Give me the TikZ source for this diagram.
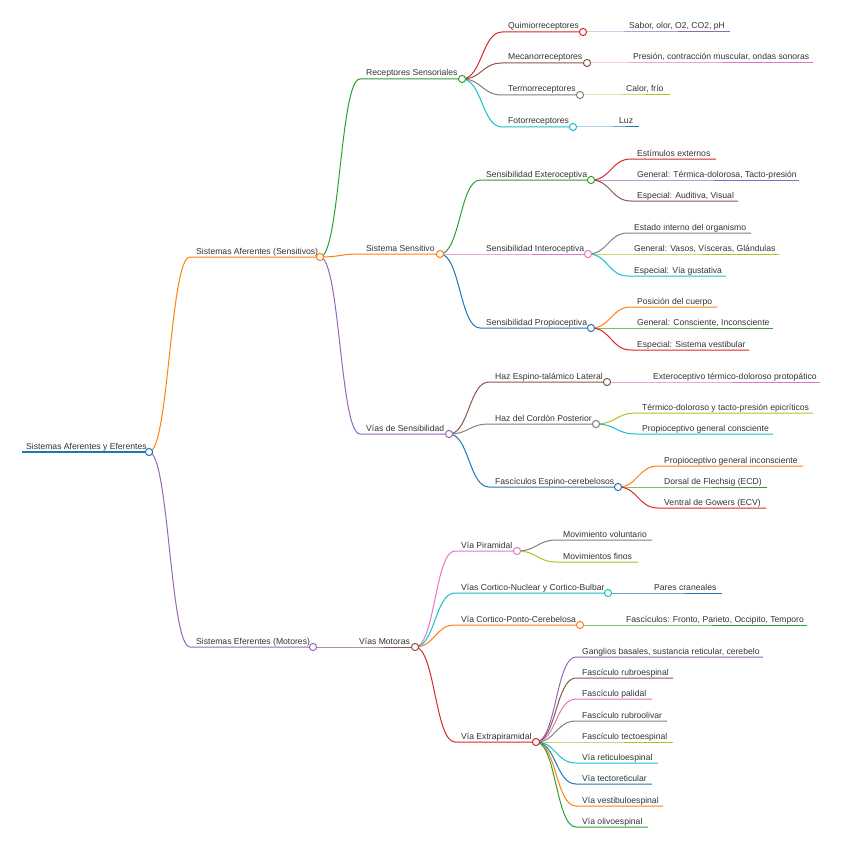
\documentclass[tikz,border=0pt]{standalone}
\usepackage{fontspec}
\setmainfont{Liberation Sans}
\usetikzlibrary{backgrounds}

\definecolor{mmblue}{HTML}{1F77B4}
\definecolor{mmorange}{HTML}{FF7F0E}
\definecolor{mmgreen}{HTML}{2CA02C}
\definecolor{mmred}{HTML}{D62728}
\definecolor{mmpurple}{HTML}{9467BD}
\definecolor{mmbrown}{HTML}{8C564B}
\definecolor{mmpink}{HTML}{E377C2}
\definecolor{mmgray}{HTML}{7F7F7F}
\definecolor{mmolive}{HTML}{BCBD22}
\definecolor{mmcyan}{HTML}{17BECF}
\definecolor{mmtext}{HTML}{333333}

% branch with a circle: name, parent, colour, x start, x end, y, text
\newcommand{\mmnode}[7]{%
  \coordinate (#1-s) at (#4,#6);
  \coordinate (#1-c) at (#5,#6);
  \node[lbl] (#1) at (#4+6,#6-3) {#7};
  \begin{pgfonlayer}{background}
    \draw[#3, br] (#2-c) .. controls +(20,0) and +(-20,0) .. (#1-s) -- (#1-c);
  \end{pgfonlayer}
  \draw[#3, dot] (#1-c) circle (3.6);
}
% leaf: name, parent, colour, x start, x end, y, text
\newcommand{\mmleaf}[7]{%
  \coordinate (#1-s) at (#4,#6);
  \coordinate (#1-c) at (#5,#6);
  \node[lbl] (#1) at (#4+6,#6-3) {#7};
  \begin{pgfonlayer}{background}
    \draw[#3, br] (#2-c) .. controls +(20,0) and +(-20,0) .. (#1-s) -- (#1-c);
  \end{pgfonlayer}
}

\begin{document}
\begin{tikzpicture}[x=1pt, y=-1pt,
    lbl/.style={anchor=base west, inner sep=0pt, font=\fontsize{8.6}{10}\selectfont, text=mmtext},
    br/.style={line width=1pt},
    dot/.style={line width=1pt, fill=white},
]
    \useasboundingbox (0,0) rectangle (842,848);

    % root
    \coordinate (root-s) at (22,452);
    \coordinate (root-c) at (149,452);
    \node[lbl] (root) at (26,449) {Sistemas Aferentes y Eferentes};
    \begin{pgfonlayer}{background}
      \draw[mmblue, line width=1.4pt] (root-s) -- (root-c);
    \end{pgfonlayer}
    \draw[mmblue, dot] (root-c) circle (3.6);

    % first level
    \mmnode{afer}{root}{mmorange}{190}{320}{257}{Sistemas Aferentes (Sensitivos)}
    \mmnode{efer}{root}{mmpurple}{190}{313}{647}{Sistemas Eferentes (Motores)}

    % aferentes
    \mmnode{rec}{afer}{mmgreen}{360}{462}{79}{Receptores Sensoriales}
    \mmnode{sen}{afer}{mmorange}{360}{440}{254}{Sistema Sensitivo}
    \mmnode{vsen}{afer}{mmpurple}{360}{449}{434}{Vías de Sensibilidad}

    % receptores
    \mmnode{qui}{rec}{mmred}{502}{583}{32}{Quimiorreceptores}
    \mmnode{mec}{rec}{mmbrown}{502}{587}{63}{Mecanorreceptores}
    \mmnode{ter}{rec}{mmgray}{502}{580}{95}{Termorreceptores}
    \mmnode{fot}{rec}{mmcyan}{502}{573}{127}{Fotorreceptores}
    \mmleaf{sab}{qui}{mmpurple}{623}{730}{32}{Sabor, olor, O2, CO2, pH}
    \mmleaf{pre}{mec}{mmpink}{627}{813}{63}{Presión, contracción muscular, ondas sonoras}
    \mmleaf{cal}{ter}{mmolive}{620}{670}{95}{Calor, frío}
    \mmleaf{luz}{fot}{mmblue}{613}{639}{127}{Luz}

    % sistema sensitivo
    \mmnode{ext}{sen}{mmgreen}{480}{591}{180}{Sensibilidad Exteroceptiva}
    \mmnode{int}{sen}{mmpink}{480}{588}{254}{Sensibilidad Interoceptiva}
    \mmnode{pro}{sen}{mmblue}{480}{591}{328}{Sensibilidad Propioceptiva}
    \mmleaf{ext1}{ext}{mmred}{631}{716}{159}{Estímulos externos}
    \mmleaf{ext2}{ext}{mmpurple}{631}{799}{180}{General: Térmica-dolorosa, Tacto-presión}
    \mmleaf{ext3}{ext}{mmbrown}{631}{738}{201}{Especial: Auditiva, Visual}
    \mmleaf{int1}{int}{mmgray}{628}{751}{233}{Estado interno del organismo}
    \mmleaf{int2}{int}{mmolive}{628}{779}{254}{General: Vasos, Vísceras, Glándulas}
    \mmleaf{int3}{int}{mmcyan}{628}{726}{276}{Especial: Vía gustativa}
    \mmleaf{pro1}{pro}{mmorange}{631}{717}{307}{Posición del cuerpo}
    \mmleaf{pro2}{pro}{mmgreen}{631}{773}{328}{General: Consciente, Inconsciente}
    \mmleaf{pro3}{pro}{mmred}{631}{749}{350}{Especial: Sistema vestibular}

    % vias de sensibilidad
    \mmnode{hel}{vsen}{mmbrown}{489}{607}{382}{Haz Espino-talámico Lateral}
    \mmnode{hcp}{vsen}{mmgray}{489}{596}{424}{Haz del Cordón Posterior}
    \mmnode{fec}{vsen}{mmblue}{489}{618}{487}{Fascículos Espino-cerebelosos}
    \mmleaf{hel1}{hel}{mmpink}{647}{820}{382}{Exteroceptivo térmico-doloroso protopático}
    \mmleaf{hcp1}{hcp}{mmolive}{636}{813}{413}{Térmico-doloroso y tacto-presión epicríticos}
    \mmleaf{hcp2}{hcp}{mmcyan}{636}{773}{434}{Propioceptivo general consciente}
    \mmleaf{fec1}{fec}{mmorange}{658}{803}{466}{Propioceptivo general inconsciente}
    \mmleaf{fec2}{fec}{mmgreen}{658}{767}{487}{Dorsal de Flechsig (ECD)}
    \mmleaf{fec3}{fec}{mmred}{658}{766}{508}{Ventral de Gowers (ECV)}

    % eferentes
    \mmnode{vmot}{efer}{mmbrown}{353}{415}{647}{Vías Motoras}
    \mmnode{pir}{vmot}{mmpink}{455}{517}{551}{Vía Piramidal}
    \mmnode{cnb}{vmot}{mmcyan}{455}{608}{593}{Vías Cortico-Nuclear y Cortico-Bulbar}
    \mmnode{cpc}{vmot}{mmorange}{455}{580}{625}{Vía Cortico-Ponto-Cerebelosa}
    \mmnode{epi}{vmot}{mmred}{455}{536}{742}{Vía Extrapiramidal}
    \mmleaf{pir1}{pir}{mmgray}{557}{652}{540}{Movimiento voluntario}
    \mmleaf{pir2}{pir}{mmolive}{557}{638}{562}{Movimientos finos}
    \mmleaf{cnb1}{cnb}{mmblue}{648}{722}{593}{Pares craneales}
    \mmleaf{cpc1}{cpc}{mmgreen}{620}{807}{625}{Fascículos: Fronto, Parieto, Occipito, Temporo}
    \mmleaf{epi1}{epi}{mmpurple}{576}{763}{657}{Ganglios basales, sustancia reticular, cerebelo}
    \mmleaf{epi2}{epi}{mmbrown}{576}{673}{678}{Fascículo rubroespinal}
    \mmleaf{epi3}{epi}{mmpink}{576}{652}{699}{Fascículo palidal}
    \mmleaf{epi4}{epi}{mmgray}{576}{667}{721}{Fascículo rubroolivar}
    \mmleaf{epi5}{epi}{mmolive}{576}{673}{742}{Fascículo tectoespinal}
    \mmleaf{epi6}{epi}{mmcyan}{576}{658}{763}{Vía reticuloespinal}
    \mmleaf{epi7}{epi}{mmblue}{576}{652}{784}{Vía tectoreticular}
    \mmleaf{epi8}{epi}{mmorange}{576}{663}{806}{Vía vestibuloespinal}
    \mmleaf{epi9}{epi}{mmgreen}{576}{648}{827}{Vía olivoespinal}
\end{tikzpicture}
\end{document}
